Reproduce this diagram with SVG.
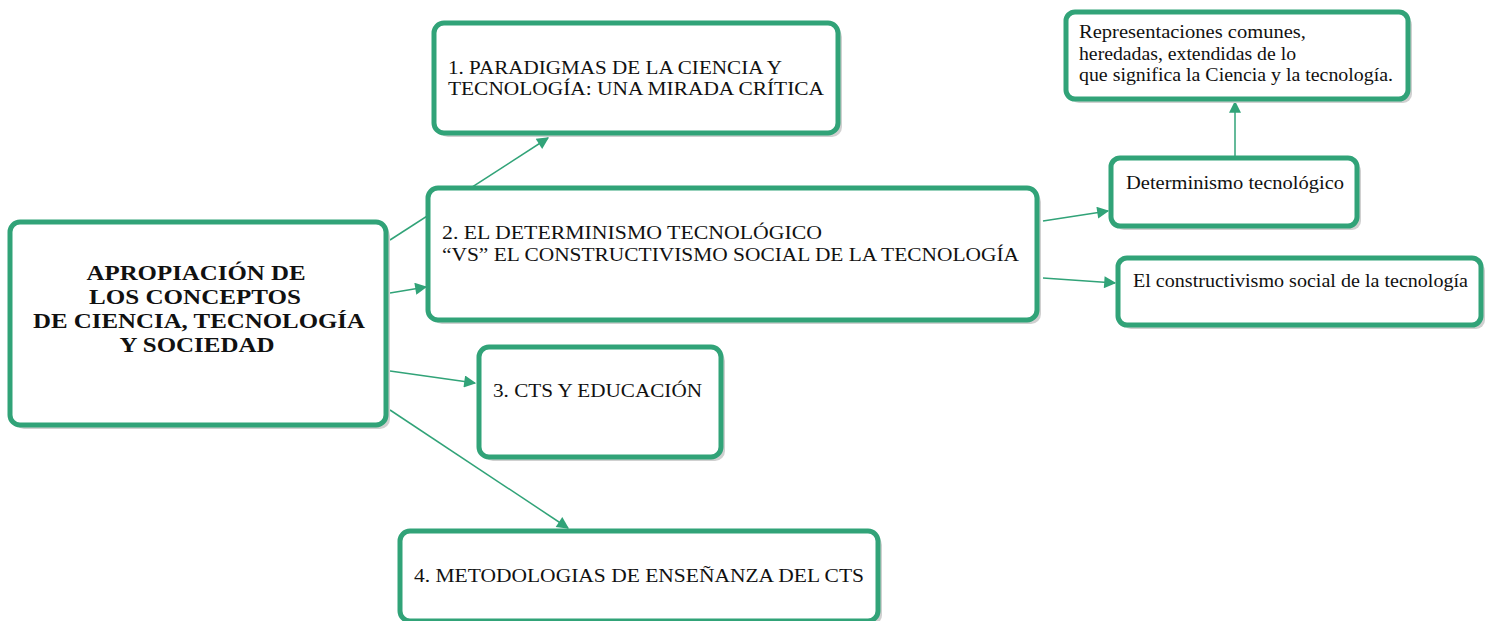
<svg xmlns="http://www.w3.org/2000/svg" width="1491" height="621" viewBox="0 0 1491 621">
<style>
.box{fill:#fff;stroke:#31a378;stroke-width:5}
.sh{fill:#d0d0d0}
.t{font-family:'Liberation Serif','DejaVu Serif',serif;font-size:19px;fill:#111}
.b{font-weight:bold;font-size:21px;text-anchor:middle}
.s{font-size:18px}
.c{stroke:#31a378;stroke-width:1.5;fill:none;marker-end:url(#a)}
</style>
<defs>
<marker id="a" viewBox="0 0 10 10" refX="9" refY="5" markerWidth="15" markerHeight="12" markerUnits="userSpaceOnUse" orient="auto"><path d="M0,0L10,5L0,10z" fill="#31a378"/></marker>
</defs>
<rect width="1491" height="621" fill="#fff"/>
<g id="connectors">
<line class="c" x1="390" y1="240" x2="548" y2="138"/>
<line class="c" x1="390" y1="293" x2="426" y2="287"/>
<line class="c" x1="390" y1="371" x2="475" y2="383"/>
<line class="c" x1="390" y1="410" x2="568" y2="528"/>
<line class="c" x1="1043" y1="221" x2="1108" y2="211"/>
<line class="c" x1="1043" y1="278" x2="1115" y2="283"/>
<line class="c" x1="1235" y1="158" x2="1235" y2="102"/>
</g>
<g id="main">
<rect class="sh" x="14" y="226" width="376" height="203" rx="10"/>
<rect class="box" x="10" y="222" width="376" height="203" rx="10"/>
<text class="t b"><tspan x="196" y="280" textLength="219" lengthAdjust="spacingAndGlyphs">APROPIACIÓN DE</tspan><tspan x="195" y="304" textLength="212" lengthAdjust="spacingAndGlyphs">LOS CONCEPTOS</tspan><tspan x="199" y="328" textLength="332" lengthAdjust="spacingAndGlyphs">DE CIENCIA, TECNOLOGÍA</tspan><tspan x="197" y="352" textLength="155" lengthAdjust="spacingAndGlyphs">Y SOCIEDAD</tspan></text>
</g>
<g id="n1">
<rect class="sh" x="438" y="27" width="404" height="110" rx="10"/>
<rect class="box" x="434" y="23" width="404" height="110" rx="10"/>
<text class="t"><tspan x="448" y="74" textLength="334" lengthAdjust="spacingAndGlyphs">1. PARADIGMAS DE LA CIENCIA Y</tspan><tspan x="448" y="95" textLength="376" lengthAdjust="spacingAndGlyphs">TECNOLOGÍA: UNA MIRADA CRÍTICA</tspan></text>
</g>
<g id="n2">
<rect class="sh" x="432" y="192" width="609" height="132" rx="10"/>
<rect class="box" x="428" y="188" width="609" height="132" rx="10"/>
<text class="t"><tspan x="442" y="239" textLength="380" lengthAdjust="spacingAndGlyphs">2. EL DETERMINISMO TECNOLÓGICO</tspan><tspan x="442" y="261" textLength="577" lengthAdjust="spacingAndGlyphs">“VS” EL CONSTRUCTIVISMO SOCIAL DE LA TECNOLOGÍA</tspan></text>
</g>
<g id="n3">
<rect class="sh" x="483" y="351" width="242" height="110" rx="10"/>
<rect class="box" x="479" y="347" width="242" height="110" rx="10"/>
<text class="t" x="493" y="397" textLength="209" lengthAdjust="spacingAndGlyphs">3. CTS Y EDUCACIÓN</text>
</g>
<g id="n4">
<rect class="sh" x="404" y="535" width="478" height="90" rx="10"/>
<rect class="box" x="400" y="531" width="478" height="90" rx="10"/>
<text class="t" x="414" y="582" textLength="450" lengthAdjust="spacingAndGlyphs">4. METODOLOGIAS DE ENSEÑANZA DEL CTS</text>
</g>
<g id="n5">
<rect class="sh" x="1115" y="162" width="246" height="68" rx="9"/>
<rect class="box" x="1111" y="158" width="246" height="68" rx="9"/>
<text class="t s" x="1126" y="189" textLength="218" lengthAdjust="spacingAndGlyphs">Determinismo tecnológico</text>
</g>
<g id="n6">
<rect class="sh" x="1122" y="262" width="363" height="67" rx="9"/>
<rect class="box" x="1118" y="258" width="363" height="67" rx="9"/>
<text class="t s" x="1133" y="287" textLength="335" lengthAdjust="spacingAndGlyphs">El constructivismo social de la tecnología</text>
</g>
<g id="n7">
<rect class="sh" x="1070" y="16" width="342" height="87" rx="9"/>
<rect class="box" x="1066" y="12" width="342" height="87" rx="9"/>
<text class="t s"><tspan x="1079" y="38" textLength="227" lengthAdjust="spacingAndGlyphs">Representaciones comunes,</tspan><tspan x="1079" y="60" textLength="217" lengthAdjust="spacingAndGlyphs">heredadas, extendidas de lo</tspan><tspan x="1079" y="81" textLength="314" lengthAdjust="spacingAndGlyphs">que significa la Ciencia y la tecnología.</tspan></text>
</g>
</svg>
